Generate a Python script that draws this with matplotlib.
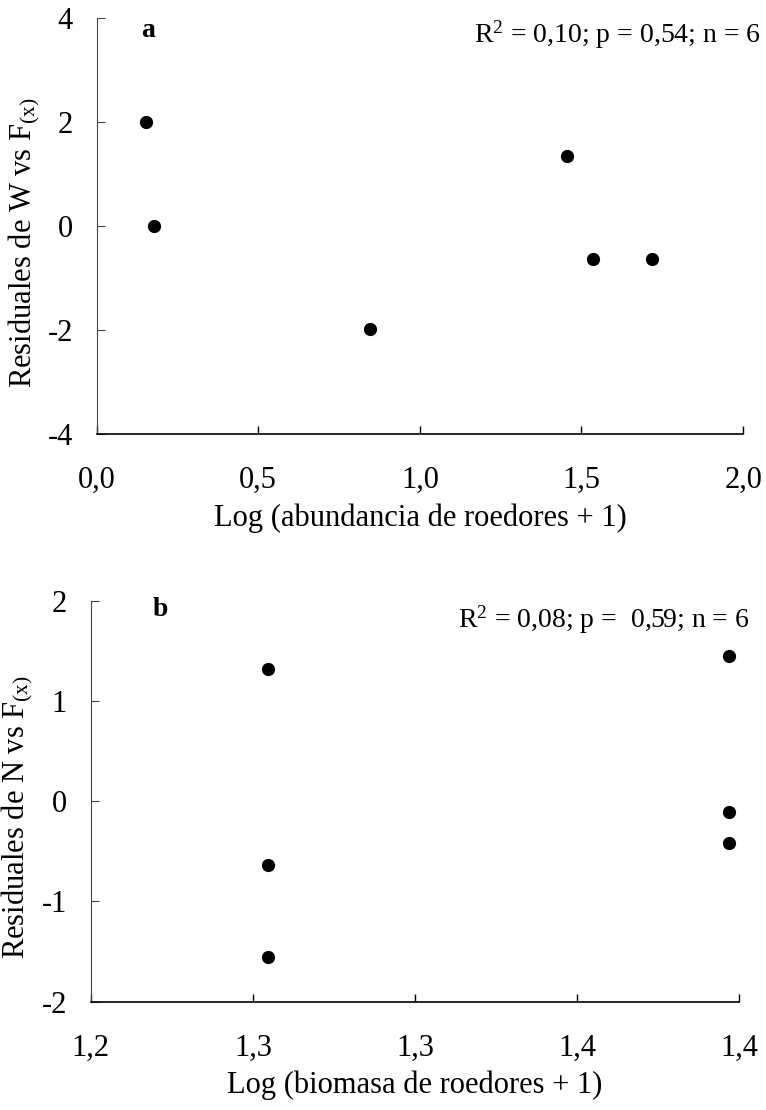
import matplotlib
matplotlib.use('Agg')
import matplotlib.pyplot as plt
from matplotlib.ticker import FixedLocator, FixedFormatter

plt.rcParams['font.family'] = ['Liberation Serif', 'DejaVu Serif']
plt.rcParams['mathtext.fontset'] = 'custom'
plt.rcParams['mathtext.rm'] = 'Liberation Serif'
plt.rcParams['mathtext.it'] = 'Liberation Serif:italic'
plt.rcParams['axes.unicode_minus'] = False

# ── Data ─────────────────────────────────────────────
abund_x = [0.152, 0.177, 0.846, 1.454, 1.537, 1.717]
resid_w = [2.01, 0.01, -1.97, 1.36, -0.63, -0.63]

biom_x = [1.2548, 1.2548, 1.2548, 1.3969, 1.3969, 1.3969]
resid_n = [1.32, -0.64, -1.555, 1.45, -0.11, -0.42]

a_xticks = [0.0, 0.5, 1.0, 1.5, 2.0]
a_xlabels = ['0,0', '0,5', '1,0', '1,5', '2,0']
a_yticks = [-4, -2, 0, 2, 4]
b_xticks = [1.20, 1.25, 1.30, 1.35, 1.40]
b_xlabels = ['1,2', '1,3', '1,3', '1,4', '1,4']
b_yticks = [-2, -1, 0, 1, 2]

FS = 22       # tick labels / axis labels
FS_NOTE = 20  # R^2 annotation

fig = plt.figure(figsize=(7.66, 11.10), dpi=100)
ax_a = fig.add_axes([0.1262, 0.6087, 0.9701 - 0.1262, 0.9835 - 0.6087])
ax_b = fig.add_axes([0.1184, 0.0977, 0.9654 - 0.1184, 0.4583 - 0.0977])


def style(ax):
    for s in ['top', 'right']:
        ax.spines[s].set_visible(False)
    ax.spines['left'].set_linewidth(0.8)
    ax.spines['left'].set_color('#444444')
    ax.spines['bottom'].set_linewidth(1.2)
    ax.tick_params(axis='y', direction='in', length=6, width=0.8,
                   color='#444444', labelsize=FS, pad=17)
    ax.tick_params(axis='x', direction='in', length=6, width=1.0,
                   labelsize=FS, pad=23)


# ── Panel a ──────────────────────────────────────────
ax_a.plot(abund_x, resid_w, 'o', color='black', ms=8.5, clip_on=False)
ax_a.set_xlim(0, 2)
ax_a.set_ylim(-4, 4)
ax_a.xaxis.set_major_locator(FixedLocator(a_xticks))
ax_a.xaxis.set_major_formatter(FixedFormatter(a_xlabels))
ax_a.set_yticks(a_yticks)
style(ax_a)
ax_a.set_xlabel('Log (abundancia de roedores + 1)', fontsize=FS, labelpad=6)
ax_a.set_ylabel(r'Residuales de W vs F$_{\mathrm{(x)}}$', fontsize=FS,
                labelpad=4, y=0.46)
ax_a.text(0.068, 1.0, 'a', transform=ax_a.transAxes, fontsize=20,
          fontweight='bold', ha='left', va='top')
ax_a.text(1.028, 1.0, r'R$^2$ = 0,10; p = 0,54; n = 6', transform=ax_a.transAxes,
          fontsize=FS_NOTE, ha='right', va='top')

# ── Panel b ──────────────────────────────────────────
ax_b.plot(biom_x, resid_n, 'o', color='black', ms=8.5, clip_on=False)
ax_b.set_xlim(1.20, 1.40)
ax_b.set_ylim(-2, 2)
ax_b.xaxis.set_major_locator(FixedLocator(b_xticks))
ax_b.xaxis.set_major_formatter(FixedFormatter(b_xlabels))
ax_b.set_yticks(b_yticks)
style(ax_b)
ax_b.set_xlabel('Log (biomasa de roedores + 1)', fontsize=FS, labelpad=6)
ax_b.set_ylabel(r'Residuales de N vs F$_{\mathrm{(x)}}$', fontsize=FS,
                labelpad=5, y=0.46)
ax_b.text(0.095, 1.01, 'b', transform=ax_b.transAxes, fontsize=20,
          fontweight='bold', ha='left', va='top')
ax_b.text(1.015, 0.995, r'R$^2$ = 0,08; p =  0,59; n = 6', transform=ax_b.transAxes,
          fontsize=FS_NOTE, ha='right', va='top')

fig.savefig('out.png', dpi=100)
